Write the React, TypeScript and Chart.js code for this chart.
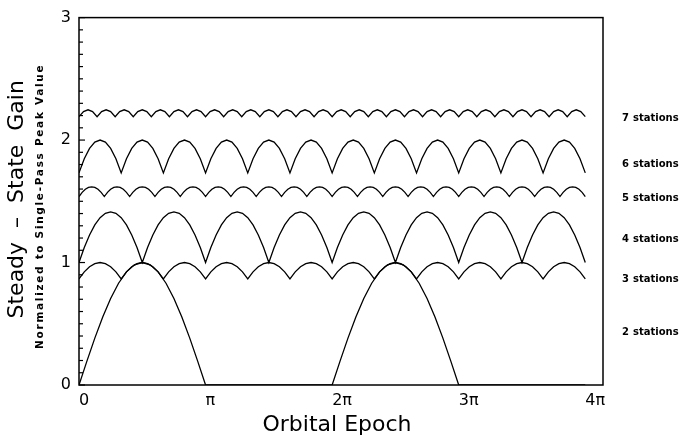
import React, { useEffect, useRef } from "react";
import { Chart, registerables } from "chart.js";

Chart.register(...registerables);

// x values are in units of π (orbital epoch / π)
const xTickValues = [0, 1, 2, 3, 4];
const xTickLabels = ["0", "π", "2π", "3π", "4π"];
const yTickValues = [0, 1, 2, 3];

const stationNames = ["2 stations", "3 stations", "4 stations", "5 stations", "6 stations", "7 stations"];
const stationLabelY = [0.43, 0.86, 1.19, 1.52, 1.8, 2.18];

// sample spacing (in π units) of each series
const step2 = 1 / 16;
const step3 = 1 / 24;
const step4 = 1 / 24;
const step5 = 1 / 40;
const step6 = 1 / 24;
const step7 = 1 / 28;

const gain2 = [
  0, 0.195, 0.383, 0.556, 0.707, 0.831, 0.924, 0.981, 1, 0.981, 0.924, 0.831, 0.707, 0.556, 0.383, 0.195,
  0, 0, 0, 0, 0, 0, 0, 0, 0, 0, 0, 0, 0, 0, 0, 0,
  0, 0.195, 0.383, 0.556, 0.707, 0.831, 0.924, 0.981, 1, 0.981, 0.924, 0.831, 0.707, 0.556, 0.383, 0.195,
  0, 0, 0, 0, 0, 0, 0, 0, 0, 0, 0, 0, 0, 0, 0, 0,
  0,
];

const gain3 = [
  0.866, 0.924, 0.966, 0.991, 1, 0.991, 0.966, 0.924,
  0.866, 0.924, 0.966, 0.991, 1, 0.991, 0.966, 0.924,
  0.866, 0.924, 0.966, 0.991, 1, 0.991, 0.966, 0.924,
  0.866, 0.924, 0.966, 0.991, 1, 0.991, 0.966, 0.924,
  0.866, 0.924, 0.966, 0.991, 1, 0.991, 0.966, 0.924,
  0.866, 0.924, 0.966, 0.991, 1, 0.991, 0.966, 0.924,
  0.866, 0.924, 0.966, 0.991, 1, 0.991, 0.966, 0.924,
  0.866, 0.924, 0.966, 0.991, 1, 0.991, 0.966, 0.924,
  0.866, 0.924, 0.966, 0.991, 1, 0.991, 0.966, 0.924,
  0.866, 0.924, 0.966, 0.991, 1, 0.991, 0.966, 0.924,
  0.866, 0.924, 0.966, 0.991, 1, 0.991, 0.966, 0.924,
  0.866, 0.924, 0.966, 0.991, 1, 0.991, 0.966, 0.924,
  0.866,
];

const gain4 = [
  1, 1.122, 1.225, 1.307, 1.366, 1.402, 1.414, 1.402, 1.366, 1.307, 1.225, 1.122,
  1, 1.122, 1.225, 1.307, 1.366, 1.402, 1.414, 1.402, 1.366, 1.307, 1.225, 1.122,
  1, 1.122, 1.225, 1.307, 1.366, 1.402, 1.414, 1.402, 1.366, 1.307, 1.225, 1.122,
  1, 1.122, 1.225, 1.307, 1.366, 1.402, 1.414, 1.402, 1.366, 1.307, 1.225, 1.122,
  1, 1.122, 1.225, 1.307, 1.366, 1.402, 1.414, 1.402, 1.366, 1.307, 1.225, 1.122,
  1, 1.122, 1.225, 1.307, 1.366, 1.402, 1.414, 1.402, 1.366, 1.307, 1.225, 1.122,
  1, 1.122, 1.225, 1.307, 1.366, 1.402, 1.414, 1.402, 1.366, 1.307, 1.225, 1.122,
  1, 1.122, 1.225, 1.307, 1.366, 1.402, 1.414, 1.402, 1.366, 1.307, 1.225, 1.122,
  1,
];

const gain5 = [
  1.539, 1.573, 1.598, 1.613, 1.618, 1.613, 1.598, 1.573,
  1.539, 1.573, 1.598, 1.613, 1.618, 1.613, 1.598, 1.573,
  1.539, 1.573, 1.598, 1.613, 1.618, 1.613, 1.598, 1.573,
  1.539, 1.573, 1.598, 1.613, 1.618, 1.613, 1.598, 1.573,
  1.539, 1.573, 1.598, 1.613, 1.618, 1.613, 1.598, 1.573,
  1.539, 1.573, 1.598, 1.613, 1.618, 1.613, 1.598, 1.573,
  1.539, 1.573, 1.598, 1.613, 1.618, 1.613, 1.598, 1.573,
  1.539, 1.573, 1.598, 1.613, 1.618, 1.613, 1.598, 1.573,
  1.539, 1.573, 1.598, 1.613, 1.618, 1.613, 1.598, 1.573,
  1.539, 1.573, 1.598, 1.613, 1.618, 1.613, 1.598, 1.573,
  1.539, 1.573, 1.598, 1.613, 1.618, 1.613, 1.598, 1.573,
  1.539, 1.573, 1.598, 1.613, 1.618, 1.613, 1.598, 1.573,
  1.539, 1.573, 1.598, 1.613, 1.618, 1.613, 1.598, 1.573,
  1.539, 1.573, 1.598, 1.613, 1.618, 1.613, 1.598, 1.573,
  1.539, 1.573, 1.598, 1.613, 1.618, 1.613, 1.598, 1.573,
  1.539, 1.573, 1.598, 1.613, 1.618, 1.613, 1.598, 1.573,
  1.539, 1.573, 1.598, 1.613, 1.618, 1.613, 1.598, 1.573,
  1.539, 1.573, 1.598, 1.613, 1.618, 1.613, 1.598, 1.573,
  1.539, 1.573, 1.598, 1.613, 1.618, 1.613, 1.598, 1.573,
  1.539, 1.573, 1.598, 1.613, 1.618, 1.613, 1.598, 1.573,
  1.539,
];

const gain6 = [
  1.732, 1.848, 1.932, 1.983, 2, 1.983, 1.932, 1.848,
  1.732, 1.848, 1.932, 1.983, 2, 1.983, 1.932, 1.848,
  1.732, 1.848, 1.932, 1.983, 2, 1.983, 1.932, 1.848,
  1.732, 1.848, 1.932, 1.983, 2, 1.983, 1.932, 1.848,
  1.732, 1.848, 1.932, 1.983, 2, 1.983, 1.932, 1.848,
  1.732, 1.848, 1.932, 1.983, 2, 1.983, 1.932, 1.848,
  1.732, 1.848, 1.932, 1.983, 2, 1.983, 1.932, 1.848,
  1.732, 1.848, 1.932, 1.983, 2, 1.983, 1.932, 1.848,
  1.732, 1.848, 1.932, 1.983, 2, 1.983, 1.932, 1.848,
  1.732, 1.848, 1.932, 1.983, 2, 1.983, 1.932, 1.848,
  1.732, 1.848, 1.932, 1.983, 2, 1.983, 1.932, 1.848,
  1.732, 1.848, 1.932, 1.983, 2, 1.983, 1.932, 1.848,
  1.732,
];

const gain7 = [
  2.191, 2.233, 2.247, 2.233, 2.191, 2.233, 2.247, 2.233,
  2.191, 2.233, 2.247, 2.233, 2.191, 2.233, 2.247, 2.233,
  2.191, 2.233, 2.247, 2.233, 2.191, 2.233, 2.247, 2.233,
  2.191, 2.233, 2.247, 2.233, 2.191, 2.233, 2.247, 2.233,
  2.191, 2.233, 2.247, 2.233, 2.191, 2.233, 2.247, 2.233,
  2.191, 2.233, 2.247, 2.233, 2.191, 2.233, 2.247, 2.233,
  2.191, 2.233, 2.247, 2.233, 2.191, 2.233, 2.247, 2.233,
  2.191, 2.233, 2.247, 2.233, 2.191, 2.233, 2.247, 2.233,
  2.191, 2.233, 2.247, 2.233, 2.191, 2.233, 2.247, 2.233,
  2.191, 2.233, 2.247, 2.233, 2.191, 2.233, 2.247, 2.233,
  2.191, 2.233, 2.247, 2.233, 2.191, 2.233, 2.247, 2.233,
  2.191, 2.233, 2.247, 2.233, 2.191, 2.233, 2.247, 2.233,
  2.191, 2.233, 2.247, 2.233, 2.191, 2.233, 2.247, 2.233,
  2.191, 2.233, 2.247, 2.233, 2.191, 2.233, 2.247, 2.233,
  2.191,
];

const X_MAX = 4.14;
const FONT = "'DejaVu Sans', sans-serif";

function toPoints(ys: number[], step: number) {
  return ys.map((y, i) => ({ x: i * step, y }));
}

const decorPlugin = {
  id: "decor",
  afterDraw(chart: any) {
    const { ctx, chartArea, scales } = chart;
    const { left, top, right, bottom } = chartArea;
    ctx.save();
    ctx.strokeStyle = "#000";
    ctx.fillStyle = "#000";
    ctx.lineWidth = 1.5;
    ctx.strokeRect(left, top, right - left, bottom - top);

    // inward minor ticks on the left axis every 0.1
    const ys = scales.y;
    ctx.lineWidth = 1.2;
    for (let i = 0; i <= 30; i++) {
      const py = ys.getPixelForValue(i / 10);
      const len = i % 10 === 0 ? 6 : 4;
      ctx.beginPath();
      ctx.moveTo(left, py);
      ctx.lineTo(left + len, py);
      ctx.stroke();
    }

    const midY = (top + bottom) / 2;
    // y-axis titles
    ctx.save();
    ctx.translate(17, midY - 2);
    ctx.rotate(-Math.PI / 2);
    ctx.textAlign = "center";
    ctx.textBaseline = "middle";
    ctx.font = `22px ${FONT}`;
    ctx.fillText("Steady  –  State  Gain", 0, 0);
    ctx.restore();

    ctx.save();
    ctx.translate(40, midY + 5);
    ctx.rotate(-Math.PI / 2);
    ctx.textAlign = "center";
    ctx.textBaseline = "middle";
    ctx.font = `bold 10.5px ${FONT}`;
    (ctx as any).letterSpacing = "1.7px";
    ctx.fillText("Normalized to Single-Pass Peak Value", 0, 0);
    ctx.restore();

    // x-axis title
    ctx.textAlign = "center";
    ctx.textBaseline = "alphabetic";
    ctx.font = `22px ${FONT}`;
    ctx.fillText("Orbital Epoch", (left + right) / 2 - 4, 431);

    // station labels on the right
    ctx.textAlign = "left";
    ctx.textBaseline = "middle";
    ctx.font = `bold 10px ${FONT}`;
    stationNames.forEach((name, i) => {
      const py = ys.getPixelForValue(stationLabelY[i]);
      const [num, word] = name.split(" ");
      ctx.fillText(num, 622, py);
      ctx.fillText(word, 633, py);
    });
    ctx.restore();
  },
};

export default function App() {
  const canvasRef = useRef<HTMLCanvasElement | null>(null);

  useEffect(() => {
    const canvas = canvasRef.current;
    if (!canvas) return;
    const line = (ys: number[], step: number, label: string) => ({
      label,
      data: toPoints(ys, step),
      showLine: true,
      borderColor: "#000",
      backgroundColor: "#000",
      borderWidth: 1.3,
      pointRadius: 0,
      fill: false,
    });
    const chart = new Chart(canvas, {
      type: "scatter",
      data: {
        datasets: [
          line(gain2, step2, "2 stations"),
          line(gain3, step3, "3 stations"),
          line(gain4, step4, "4 stations"),
          line(gain5, step5, "5 stations"),
          line(gain6, step6, "6 stations"),
          line(gain7, step7, "7 stations"),
        ],
      },
      options: {
        responsive: false,
        animation: false,
        devicePixelRatio: 1,
        layout: { padding: { left: 0, top: 16, right: 76, bottom: 0 } },
        plugins: {
          legend: { display: false },
          tooltip: { enabled: false },
        },
        scales: {
          x: {
            type: "linear",
            min: 0,
            max: X_MAX,
            grid: { display: false, drawTicks: false },
            border: { display: false },
            afterBuildTicks: (scale: any) => {
              scale.ticks = xTickValues.map((v) => ({ value: v }));
            },
            afterFit: (scale: any) => {
              scale.height = 53;
            },
            ticks: {
              align: "start",
              padding: 6,
              maxRotation: 0,
              autoSkip: false,
              color: "#000",
              font: { family: FONT, size: 16 },
              callback: (_v: any, i: number) => xTickLabels[i],
            },
          },
          y: {
            type: "linear",
            min: 0,
            max: 3,
            grid: { display: false, drawTicks: false },
            border: { display: false },
            afterBuildTicks: (scale: any) => {
              scale.ticks = yTickValues.map((v) => ({ value: v }));
            },
            afterFit: (scale: any) => {
              scale.width = 79;
            },
            ticks: {
              padding: 8,
              autoSkip: false,
              color: "#000",
              font: { family: FONT, size: 16 },
              callback: (v: any) => String(v),
            },
          },
        },
      },
      plugins: [decorPlugin],
    } as any);
    return () => chart.destroy();
  }, []);

  return (
    <div style={{ position: "fixed", left: 0, top: 0, width: 679, height: 438, background: "#fff" }}>
      <canvas ref={canvasRef} width={679} height={438} style={{ width: 679, height: 438 }} />
    </div>
  );
}
